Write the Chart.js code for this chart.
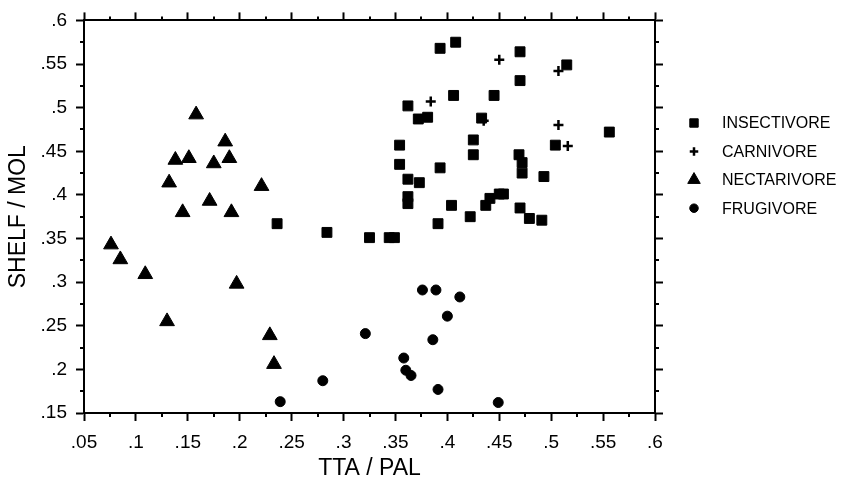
<!DOCTYPE html>
<html>
<head>
<meta charset="utf-8">
<script src="https://cdn.jsdelivr.net/npm/chart.js@4.4.1/dist/chart.umd.min.js"></script>
<style>
  html, body { margin: 0; padding: 0; background: #fff; }
  #wrap { width: 841px; height: 482px; }
</style>
</head>
<body>
<div id="wrap"><canvas id="chart" width="841" height="482"></canvas></div>
<script>
// Data (TTA / PAL vs SHELF / MOL)
const insectX = [0.236, 0.284, 0.325, 0.344, 0.349, 0.354, 0.354, 0.362, 0.362, 0.362, 0.362,
                 0.372, 0.381, 0.373, 0.393, 0.393, 0.391, 0.408, 0.406, 0.404, 0.425, 0.425,
                 0.422, 0.433, 0.437, 0.441, 0.445, 0.450, 0.454, 0.470, 0.470, 0.469, 0.472,
                 0.472, 0.470, 0.479, 0.491, 0.493, 0.504, 0.515, 0.556];
const insectY = [0.367, 0.357, 0.351, 0.351, 0.351, 0.457, 0.435, 0.502, 0.418, 0.398, 0.390,
                 0.487, 0.489, 0.414, 0.568, 0.431, 0.367, 0.575, 0.514, 0.388, 0.463, 0.446,
                 0.375, 0.488, 0.388, 0.396, 0.514, 0.401, 0.401, 0.564, 0.531, 0.446, 0.437,
                 0.425, 0.385, 0.373, 0.371, 0.421, 0.457, 0.549, 0.472];

const carniX = [0.450, 0.507, 0.384, 0.435, 0.507, 0.516];
const carniY = [0.555, 0.542, 0.507, 0.485, 0.480, 0.456];

const nectarX = [0.158, 0.186, 0.138, 0.151, 0.175, 0.190, 0.132, 0.221, 0.171, 0.145, 0.192,
                 0.076, 0.085, 0.109, 0.197, 0.130, 0.229, 0.233];
const nectarY = [0.492, 0.461, 0.440, 0.442, 0.436, 0.442, 0.414, 0.410, 0.393, 0.380, 0.380,
                 0.343, 0.326, 0.309, 0.298, 0.255, 0.239, 0.206];

const frugiX = [0.239, 0.280, 0.321, 0.376, 0.389, 0.412, 0.400, 0.386, 0.358, 0.360, 0.365,
                0.391, 0.449];
const frugiY = [0.163, 0.187, 0.241, 0.291, 0.291, 0.283, 0.261, 0.234, 0.213, 0.199, 0.193,
                0.177, 0.162];

const groupNames = ['INSECTIVORE', 'CARNIVORE', 'NECTARIVORE', 'FRUGIVORE'];
const xRange = [0.05, 0.6];
const yRange = [0.15, 0.6];
const majorStep = 0.05;

const FONT = '"Liberation Sans", Arial, Helvetica, sans-serif';

function pts(xs, ys) {
    return xs.map((x, i) => ({ x: x, y: ys[i] }));
}

// tick label like ".05", ".1"
function fmt(v) {
    const s = String(Number(v.toFixed(3)));
    return s.replace(/^0\./, '.');
}

// short minor ticks half way between major ticks, outside the frame on all four sides
const minorTicks = {
    id: 'minorTicks',
    afterDraw(chart) {
        const ctx = chart.ctx;
        const a = chart.chartArea;
        const xs = chart.scales.x, ys = chart.scales.y;
        const len = 4;
        ctx.save();
        ctx.strokeStyle = '#000';
        ctx.lineWidth = 2;
        ctx.beginPath();
        const nx = Math.round((xRange[1] - xRange[0]) / majorStep);
        for (let i = 0; i < nx; i++) {
            const px = Math.round(xs.getPixelForValue(xRange[0] + (i + 0.5) * majorStep));
            ctx.moveTo(px, a.bottom); ctx.lineTo(px, a.bottom + len);
            ctx.moveTo(px, a.top); ctx.lineTo(px, a.top - len);
        }
        const ny = Math.round((yRange[1] - yRange[0]) / majorStep);
        for (let i = 0; i < ny; i++) {
            const py = Math.round(ys.getPixelForValue(yRange[0] + (i + 0.5) * majorStep));
            ctx.moveTo(a.left, py); ctx.lineTo(a.left - len, py);
            ctx.moveTo(a.right, py); ctx.lineTo(a.right + len, py);
        }
        ctx.stroke();
        ctx.restore();
    }
};

// legend to the right of the frame, using each dataset's own marker
const sideLegend = {
    id: 'sideLegend',
    afterDraw(chart) {
        const ctx = chart.ctx;
        const a = chart.chartArea;
        const mx = a.right + 39, tx = a.right + 67;
        let y = 123;
        ctx.save();
        ctx.font = '16px ' + FONT;
        ctx.textBaseline = 'middle';
        chart.data.datasets.forEach(ds => {
            ctx.fillStyle = '#000';
            ctx.strokeStyle = '#000';
            ctx.lineWidth = ds.borderWidth;
            Chart.helpers.drawPoint(ctx, {
                pointStyle: ds.pointStyle,
                radius: ds.pointRadius * 0.85,
                borderWidth: ds.borderWidth,
                rotation: 0
            }, mx, y);
            ctx.fillStyle = '#000';
            ctx.fillText(ds.label, tx, y + 1);
            y += 28.4;
        });
        ctx.restore();
    }
};

function axisBase(extra) {
    return Object.assign({
        type: 'linear',
        border: { display: true, color: '#000', width: 2 },
        grid: {
            drawOnChartArea: false, drawTicks: true, tickLength: 8,
            tickColor: '#000', tickWidth: 2
        }
    }, extra);
}

const ctx = document.getElementById('chart').getContext('2d');
new Chart(ctx, {
    type: 'scatter',
    data: {
        datasets: [
            { label: groupNames[0], data: pts(insectX, insectY), pointStyle: 'rect',
              pointRadius: 7, borderWidth: 1, backgroundColor: '#000', borderColor: '#000' },
            { label: groupNames[1], data: pts(carniX, carniY), pointStyle: 'cross',
              pointRadius: 5, borderWidth: 2.5, backgroundColor: '#000', borderColor: '#000' },
            { label: groupNames[2], data: pts(nectarX, nectarY), pointStyle: 'triangle',
              pointRadius: 8.5, borderWidth: 1, backgroundColor: '#000', borderColor: '#000' },
            { label: groupNames[3], data: pts(frugiX, frugiY), pointStyle: 'circle',
              pointRadius: 5, borderWidth: 1, backgroundColor: '#000', borderColor: '#000' }
        ]
    },
    options: {
        responsive: false,
        animation: false,
        events: [],
        layout: { padding: { left: 0, top: 10, right: 178, bottom: 0 } },
        plugins: {
            legend: { display: false },
            tooltip: { enabled: false }
        },
        scales: {
            x: axisBase({
                position: 'bottom',
                min: xRange[0], max: xRange[1],
                ticks: {
                    stepSize: majorStep, color: '#000', padding: 10,
                    font: { family: FONT, size: 19 }, maxRotation: 0, autoSkip: false,
                    callback: v => fmt(v)
                },
                title: {
                    display: true, text: 'TTA / PAL', color: '#000',
                    font: { family: FONT, size: 23 }, padding: { top: 0, bottom: 0 }
                },
                afterFit: s => { s.height = 69; }
            }),
            xTop: axisBase({
                position: 'top',
                min: xRange[0], max: xRange[1],
                ticks: { stepSize: majorStep, display: false },
                afterFit: s => { s.height = 8; }
            }),
            y: axisBase({
                position: 'left',
                min: yRange[0], max: yRange[1],
                ticks: {
                    stepSize: majorStep, color: '#000', padding: 9,
                    font: { family: FONT, size: 19 }, autoSkip: false,
                    callback: v => fmt(v)
                },
                title: {
                    display: true, text: 'SHELF / MOL', color: '#000',
                    font: { family: FONT, size: 23 }, padding: { top: 5, bottom: 0 }
                },
                afterFit: s => { s.width = 84; }
            }),
            yRight: axisBase({
                position: 'right',
                min: yRange[0], max: yRange[1],
                ticks: { stepSize: majorStep, display: false },
                afterFit: s => { s.width = 8; }
            })
        }
    },
    plugins: [minorTicks, sideLegend]
});
</script>
</body>
</html>
